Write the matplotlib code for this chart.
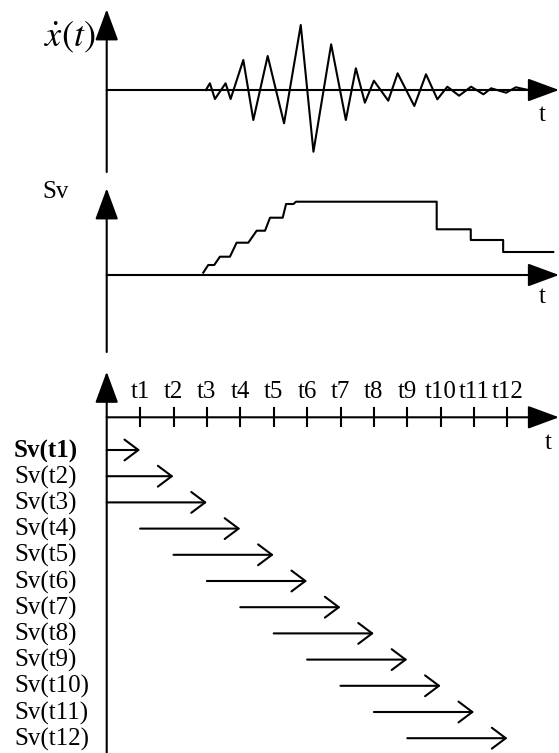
import matplotlib
matplotlib.use('Agg')
import matplotlib.pyplot as plt

plt.rcParams['font.family'] = ['Liberation Serif', 'DejaVu Serif']
plt.rcParams['mathtext.fontset'] = 'stix'

# --- data (time in tick units, amplitudes) ---
sig_t = [2.97, 3.09, 3.24, 3.56, 3.71, 4.09, 4.39, 4.82, 5.31, 5.81, 6.19, 6.72,
         7.16, 7.46, 7.73, 8.00, 8.43, 8.71, 9.21, 9.56, 9.90, 10.20, 10.55,
         10.91, 11.28, 11.51, 11.96, 12.25, 12.62]
sig_amp = [0, 6.7, -9, 6.7, -9, 30, -30, 34, -33.3, 65, -61.7, 45.7,
           -30, 21.7, -12.7, 9.3, -10.7, 16.7, -16, 15.7, -9.3, 3.3, -5.7,
           3.3, -4.3, 1.7, -2.7, 2.7, 0]

sv_t = [2.89, 3.04, 3.22, 3.39, 3.69, 3.89, 4.24, 4.49, 4.74, 4.89, 5.27,
        5.37, 5.59, 5.67, 9.88, 9.88, 10.90, 10.90, 11.87, 11.87, 13.37]
sv_val = [2.3, 10, 10, 18.3, 18.3, 32.3, 32.3, 44.3, 44.3, 57.3, 57.3,
          71, 71, 73.3, 73.3, 45.7, 45.7, 35, 35, 23, 23]

tick_t = list(range(1, 13))
tick_labels = ['t%d' % i for i in tick_t]
sv_labels = ['Sv(t%d)' % i for i in tick_t]
window = 3  # each Sv(ti) covers the last 3 intervals

# --- layout (pixels, figure is 559 x 753) ---
W, H = 559, 753
X0, PX = 106.7, 33.4          # time origin and px per time unit
BASE1, BASE2, BASE3 = 90, 275, 417.3
ROW0, ROWSTEP = 450, 26.2
FS = 18


def tx(px):
    return (px - X0) / PX


fig = plt.figure(figsize=(W / 100, H / 100), dpi=100)
ax = fig.add_axes([0, 0, 1, 1])
ax.set_xlim(tx(0), tx(W))
ax.set_ylim(H, 0)
ax.axis('off')

LW = 1.5
head = '-|>,head_length=19.5,head_width=7.2'
open_head = '->,head_length=1.0,head_width=0.75'


def axis_arrow(x0, y0, x1, y1):
    ax.annotate('', xy=(x1, y1), xytext=(x0, y0),
                arrowprops=dict(arrowstyle=head, color='black', lw=LW,
                                shrinkA=0, shrinkB=0, mutation_scale=1))


x_end = tx(W)
# panel 1: ground velocity
axis_arrow(0, 172, 0, 9.3)
axis_arrow(0, BASE1, x_end, BASE1)
ax.plot(sig_t, [BASE1 - a for a in sig_amp], color='black', lw=LW)
ax.text(tx(70), 37, r'$\dot{x}(t)$', fontsize=26, ha='center', va='center')
ax.text(tx(541.7), 115, 't', fontsize=FS, ha='center', va='center')

# panel 2: Sv
axis_arrow(0, 352, 0, 188.3)
axis_arrow(0, BASE2, x_end, BASE2)
ax.plot(sv_t, [BASE2 - v for v in sv_val], color='black', lw=LW)
ax.text(tx(56), 192, 'Sv', fontsize=FS, ha='center', va='center')
ax.text(tx(541.7), 297, 't', fontsize=FS, ha='center', va='center')

# panel 3: moving windows
axis_arrow(0, H, 0, 371.7)
axis_arrow(0, BASE3, x_end, BASE3)
for t, lab in zip(tick_t, tick_labels):
    ax.plot([t, t], [BASE3 - 9, BASE3 + 9], color='black', lw=LW)
    ax.text(t, 392, lab, fontsize=FS, ha='center', va='center')
ax.text(tx(548.3), 443, 't', fontsize=FS, ha='center', va='center')

for i, (t, lab) in enumerate(zip(tick_t, sv_labels)):
    y = ROW0 + ROWSTEP * i
    start = max(0, t - window)
    ax.annotate('', xy=(t, y), xytext=(start, y),
                arrowprops=dict(arrowstyle=open_head, color='black', lw=LW,
                                shrinkA=0, shrinkB=0, mutation_scale=10))
    ax.text(tx(14), y + 1, lab, fontsize=FS, ha='left', va='center',
            fontweight='bold' if i == 0 else 'normal')

fig.savefig('out.png', dpi=100)
